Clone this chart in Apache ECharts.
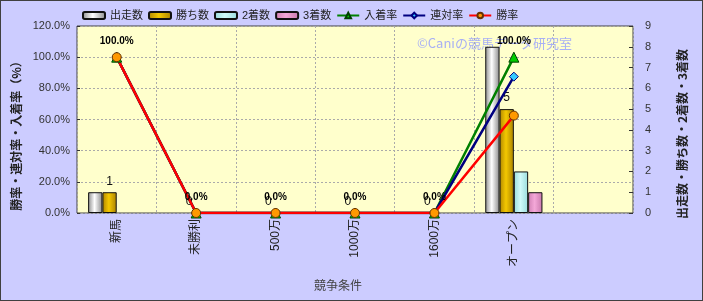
<!DOCTYPE html>
<html><head><meta charset="utf-8">
<script src="https://cdn.jsdelivr.net/npm/echarts@6/dist/echarts.min.js"></script>
<style>
html,body{margin:0;padding:0;background:#fff;}
#c{width:701px;height:299px;border:1px solid #404040;background:#CCCCFF;}
</style></head>
<body><div id="c"></div>
<script>
const categories = ['新馬','未勝利','500万','1000万','1600万','オープン',''];
const starts  = [1,0,0,0,0,8,null];
const wins    = [1,0,0,0,0,5,null];
const seconds = [0,0,0,0,0,2,null];
const thirds  = [0,0,0,0,0,1,null];
const placeRate   = [100,0,0,0,0,100,null];
const rentaiRate  = [100,0,0,0,0,87.5,null];
const winRate     = [100,0,0,0,0,62.5,null];
const leftTicks = [0,20,40,60,80,100,120];
const rightTicks = [0,1,2,3,4,5,6,7,8,9];

const FONT = '"Liberation Sans","Noto Sans CJK JP",sans-serif';
function grad(a,b,c){
  return {type:'linear',x:0,y:0,x2:1,y2:0,colorStops:[{offset:0,color:a},{offset:0.45,color:b},{offset:1,color:c}]};
}
function barData(arr){
  return arr.map(v => v === 0 ? {value:v, itemStyle:{borderWidth:0}} : v);
}
const chart = echarts.init(document.getElementById('c'));
const barBase = {type:'bar', yAxisIndex:1, barGap:'0%', barCategoryGap:'28%'};
const lineBase = {type:'line', yAxisIndex:0, lineStyle:{width:2.5}, symbolSize:9, z:5};
const nameFont = 'bold 12px "Noto Sans CJK JP",sans-serif';
chart.setOption({
  animation:false,
  textStyle:{fontFamily:FONT},
  legend:{
    left:81, top:9, padding:0, itemWidth:22, itemHeight:7, itemGap:5,
    textStyle:{fontSize:11,color:'#222',fontFamily:FONT},
    data:['出走数','勝ち数','2着数','3着数','入着率','連対率','勝率']
  },
  grid:{left:76,right:69,top:25,bottom:87,outerBoundsMode:'none',containLabel:false,show:true,backgroundColor:'#FFFFCC',borderColor:'#404040',borderWidth:1},
  graphic:[
    {type:'text',left:416,top:36,z:1,style:{text:'©Caniの競馬データ研究室',fill:'#A8B0F4',font:'13px "Noto Sans CJK JP",sans-serif'}},
    {type:'text',x:337,y:284,z:10,style:{text:'競争条件',fill:'#444',align:'center',verticalAlign:'middle',font:'12px "Noto Sans CJK JP",sans-serif'}},
    {type:'text',x:15,y:132,rotation:Math.PI/2,z:10,style:{text:'勝率・連対率・入着率（%）',fill:'#222',align:'center',verticalAlign:'middle',font:nameFont}},
    {type:'text',x:681,y:133,rotation:Math.PI/2,z:10,style:{text:'出走数・勝ち数・2着数・3着数',fill:'#222',align:'center',verticalAlign:'middle',font:nameFont}}
  ],
  xAxis:{
    type:'category', data:categories,
    axisLine:{show:false}, axisTick:{show:false},
    axisLabel:{rotate:90, fontSize:12, color:'#222', margin:6, interval:0, fontFamily:FONT},
    splitLine:{show:true, interval:0, lineStyle:{color:'#aaa',type:[2,2],width:1}}
  },
  yAxis:[
    {type:'value', min:0, max:120, interval:20, position:'left',
     axisLine:{show:false}, axisTick:{show:true,inside:true,length:3,lineStyle:{color:'#333'}},
     axisLabel:{fontSize:11,color:'#333',margin:7,formatter:v=>v.toFixed(1)+'%'},
     splitLine:{show:true,lineStyle:{color:'#aaa',type:[2,2],width:1}}},
    {type:'value', min:0, max:9, interval:1, position:'right',
     axisLine:{show:false}, axisTick:{show:true,inside:true,length:4,lineStyle:{color:'#333'}},
     axisLabel:{fontSize:11,color:'#333',margin:12},
     splitLine:{show:false}}
  ],
  series:[
    Object.assign({}, barBase, {name:'出走数', data:barData(starts),
      itemStyle:{color:grad('#8c8c8c','#ffffff','#8a8a8a'),borderColor:'#111',borderWidth:1}}),
    Object.assign({}, barBase, {name:'勝ち数', data:barData(wins),
      itemStyle:{color:grad('#b08600','#f4c800','#a88000'),borderColor:'#111',borderWidth:1},
      label:{show:true,position:'top',distance:5,fontSize:12,color:'#111'}}),
    Object.assign({}, barBase, {name:'2着数', data:barData(seconds),
      itemStyle:{color:grad('#98dcdc','#d0fafa','#98dcdc'),borderColor:'#111',borderWidth:1}}),
    Object.assign({}, barBase, {name:'3着数', data:barData(thirds),
      itemStyle:{color:grad('#d080b4','#f4a8d8','#c878ac'),borderColor:'#111',borderWidth:1}}),
    Object.assign({}, lineBase, {name:'入着率', data:placeRate, symbol:'triangle', symbolSize:10,
      lineStyle:{width:2.5,color:'#008000'}, itemStyle:{color:'#00CC00',borderColor:'#004000',borderWidth:1},
      label:{show:true,position:'top',distance:5,fontSize:10,fontWeight:'bold',color:'#000',formatter:p=>p.value.toFixed(1)+'%'}}),
    Object.assign({}, lineBase, {name:'連対率', data:rentaiRate, symbol:'diamond', symbolSize:9,
      lineStyle:{width:2.5,color:'#000080'}, itemStyle:{color:'#33CCFF',borderColor:'#000080',borderWidth:1}}),
    Object.assign({}, lineBase, {name:'勝率', data:winRate, symbol:'circle', symbolSize:9,
      lineStyle:{width:2.5,color:'#FF0000'}, itemStyle:{color:'#FF9900',borderColor:'#663300',borderWidth:1}})
  ]
});
</script></body></html>
